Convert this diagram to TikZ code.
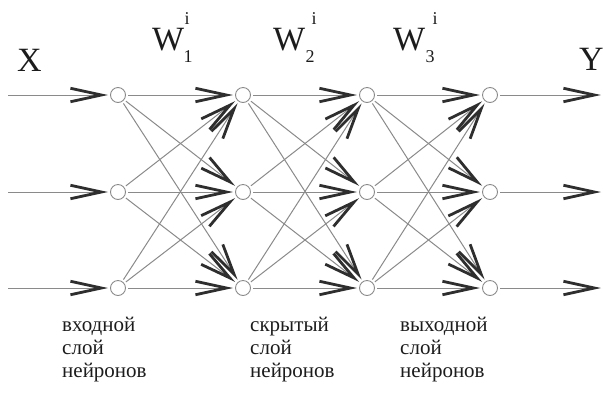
\documentclass[tikz,border=0pt]{standalone}
\usepackage{fontspec}
\setmainfont{Liberation Serif}
\usetikzlibrary{arrows.meta}
\definecolor{linegray}{HTML}{8A8A8A}
\definecolor{headgray}{HTML}{2E2E2E}
\definecolor{inkgray}{HTML}{1C1C1C}
\begin{document}
\begin{tikzpicture}[x=1bp,y=-1bp,
  neuron/.style={circle,draw=linegray,fill=white,line width=0.9bp,
    minimum size=15bp,inner sep=0pt,outer sep=2.5bp},
  link/.style={draw=linegray,line width=1bp,
    -{Straight Barb[length=31bp,width=13.5bp,line width=2.8bp,color=headgray]}},
  bigtxt/.style={inner sep=0pt,text=inkgray,font=\fontsize{34bp}{34bp}\selectfont},
  idx/.style={inner sep=0pt,text=inkgray,font=\fontsize{18bp}{18bp}\selectfont,anchor=base west},
  layertxt/.style={inner sep=0pt,text=inkgray,align=left,anchor=base west,
    font=\fontsize{21bp}{23bp}\selectfont}]
  \useasboundingbox (0,0) rectangle (603,401);

  % neurons: four layers of three
  \foreach \c/\x in {1/118,2/243,3/367,4/490}
    \foreach \r/\y in {1/95,2/192,3/288}
      \node[neuron] (n\c\r) at (\x,\y) {};

  % free ends of input and output lines
  \foreach \r/\y in {1/95,2/192,3/288} {
    \coordinate (in\r) at (8,\y);
    \coordinate (out\r) at (601,\y);
  }

  % full connections between neighbouring layers
  \foreach \c/\d in {1/2,2/3,3/4}
    \foreach \r in {1,2,3}
      \foreach \s in {1,2,3}
        \draw[link] (n\c\r) -- (n\d\s);

  % inputs and outputs
  \foreach \r in {1,2,3} {
    \draw[link] (in\r) -- (n1\r);
    \draw[link] (n4\r) -- (out\r);
  }

  % signal names
  \node[bigtxt,anchor=base west] (lx) at (17,71) {X};
  \node[bigtxt,anchor=base west] (ly) at (579,70) {Y};

  % weight matrices
  \node[bigtxt,anchor=base west] (w1) at (152,50) {W};
  \node[idx] (w1b) at ([shift={(-1,12)}]w1.base east) {1};
  \node[idx] (w1t) at ([shift={(0,-26)}]w1.base east) {i};
  \node[bigtxt,anchor=base west] (w2) at (273,50) {W};
  \node[idx] (w2b) at ([shift={(0,12)}]w2.base east) {2};
  \node[idx] (w2t) at ([shift={(6,-26)}]w2.base east) {i};
  \node[bigtxt,anchor=base west] (w3) at (393,50) {W};
  \node[idx] (w3b) at ([shift={(0,12)}]w3.base east) {3};
  \node[idx] (w3t) at ([shift={(7,-26)}]w3.base east) {i};

  % layer captions (anchored at the baseline of the last line)
  \node[layertxt] (l1) at (62,377) {входной\\слой\\нейронов};
  \node[layertxt] (l2) at (250,377) {скрытый\\слой\\нейронов};
  \node[layertxt] (l3) at (400,377) {выходной\\слой\\нейронов};
\end{tikzpicture}
\end{document}
